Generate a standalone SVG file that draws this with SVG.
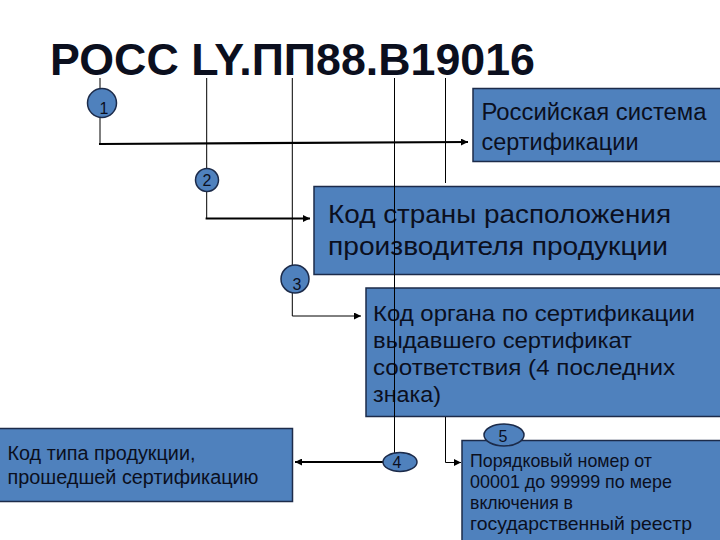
<svg xmlns="http://www.w3.org/2000/svg" width="720" height="540" viewBox="0 0 720 540">
<defs>
<style>
.box{fill:#4F81BD;stroke:#1C2B4A;stroke-width:1.5}
.t{font-family:"Liberation Sans",Arial,sans-serif;fill:#0B0F1E}
.thin{stroke:#000;stroke-width:1;fill:none}
.thick{stroke:#000;stroke-width:2.2;fill:none}
.num{font-family:"Liberation Sans",Arial,sans-serif;font-size:16px;fill:#0B0F1E;text-anchor:middle}
</style>
<marker id="arr" viewBox="0 0 10 10" refX="10" refY="5" markerWidth="7" markerHeight="7" markerUnits="userSpaceOnUse" orient="auto">
<path d="M0,0 L10,5 L0,10 z" fill="#000"/>
</marker>
</defs>
<rect width="720" height="540" fill="#fff"/>
<text class="t" x="50" y="74.5" font-size="45" font-weight="bold" textLength="485" lengthAdjust="spacingAndGlyphs" fill="#000">РОСС LY.ПП88.В19016</text>

<g id="node-russian-system">
<rect class="box" x="473" y="88.5" width="250" height="73"/>
<text class="t" font-size="23"><tspan x="481.5" y="120" textLength="225" lengthAdjust="spacingAndGlyphs">Российская система</tspan><tspan x="481.5" y="150" textLength="157" lengthAdjust="spacingAndGlyphs">сертификации</tspan></text>
</g>
<g id="node-country">
<rect class="box" x="314" y="186.5" width="410" height="88"/>
<text class="t" font-size="26"><tspan x="328" y="223" textLength="343" lengthAdjust="spacingAndGlyphs">Код страны расположения</tspan><tspan x="328" y="255" textLength="340" lengthAdjust="spacingAndGlyphs">производителя продукции</tspan></text>
</g>
<g id="node-body">
<rect class="box" x="366" y="288" width="358" height="128.5"/>
<text class="t" font-size="22"><tspan x="373" y="321" textLength="322" lengthAdjust="spacingAndGlyphs">Код органа по сертификации</tspan><tspan x="373" y="348" textLength="259" lengthAdjust="spacingAndGlyphs">выдавшего сертификат</tspan><tspan x="373" y="375" textLength="302" lengthAdjust="spacingAndGlyphs">соответствия (4 последних</tspan><tspan x="373" y="401.5" textLength="68" lengthAdjust="spacingAndGlyphs">знака)</tspan></text>
</g>
<g id="node-product-type">
<rect class="box" x="-2" y="428.5" width="294.5" height="73"/>
<text class="t" font-size="20"><tspan x="7.5" y="459.5" textLength="188" lengthAdjust="spacingAndGlyphs">Код типа продукции,</tspan><tspan x="7.5" y="483.5" textLength="251" lengthAdjust="spacingAndGlyphs">прошедшей сертификацию</tspan></text>
</g>
<g id="node-serial">
<rect class="box" x="462" y="440.5" width="262" height="104"/>
<text class="t" font-size="19"><tspan x="470" y="467" textLength="182" lengthAdjust="spacingAndGlyphs">Порядковый номер от</tspan><tspan x="470" y="487.5" textLength="202" lengthAdjust="spacingAndGlyphs">00001 до 99999 по мере</tspan><tspan x="470" y="508.5" textLength="103" lengthAdjust="spacingAndGlyphs">включения в</tspan><tspan x="470" y="529.5" textLength="222" lengthAdjust="spacingAndGlyphs">государственный реестр</tspan></text>
</g>

<g id="connectors">
<line class="thin" x1="100" y1="78" x2="100" y2="144"/>
<path class="thick" d="M99,144 L468,142" marker-end="url(#arr)"/>
<line class="thin" x1="206.7" y1="78" x2="206.7" y2="218.5"/>
<path class="thick" d="M205.6,218.5 L310,218.5" marker-end="url(#arr)"/>
<path class="thin" d="M292.3,78 V316 H361" marker-end="url(#arr)"/>
<line class="thin" x1="394.5" y1="78" x2="394.5" y2="454"/>
<path class="thick" d="M383,462 L295,462" marker-end="url(#arr)"/>
<line class="thin" x1="445.5" y1="78" x2="445.5" y2="183"/>
<path class="thin" d="M445.5,417 V462.5 H461" marker-end="url(#arr)"/>
</g>

<g id="num-1"><circle class="box" cx="102" cy="103" r="14.5"/><text class="num" x="104" y="114">1</text></g>
<g id="num-2"><circle class="box" cx="207" cy="180" r="11.5"/><text class="num" x="207" y="186">2</text></g>
<g id="num-3"><circle class="box" cx="295" cy="279" r="14"/><text class="num" x="297" y="290">3</text></g>
<g id="num-4"><ellipse class="box" cx="400" cy="462" rx="17" ry="9.5"/><text class="num" x="397" y="468">4</text></g>
<g id="num-5"><ellipse class="box" cx="504" cy="435" rx="20" ry="11"/><text class="num" x="503" y="442">5</text></g>
</svg>
